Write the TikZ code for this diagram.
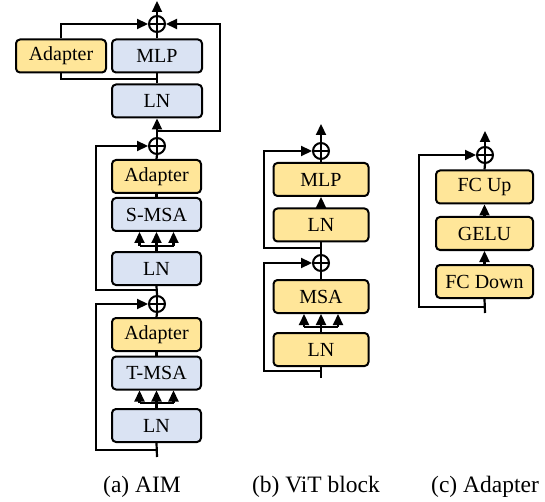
\documentclass[tikz,border=0pt]{standalone}
\usepackage{fontspec}
\setmainfont{Liberation Serif}
\usetikzlibrary{arrows.meta,calc}
\definecolor{ylw}{HTML}{FFE699}
\definecolor{blu}{HTML}{DAE3F3}
\newcommand\myfan[2]{%
  \draw[ln] (#1.north) -- ++(0,-5) coordinate (#1f);
  \draw[ln] ($(#1f)+(-17,0)$) -- ($(#1f)+(17,0)$);
  \foreach \dx in {-17,0,17} {\draw[arr] ($(#1f)+(\dx,0)$) -- ($(#2.south)+(\dx,0)$);}
}
\begin{document}
\begin{tikzpicture}[x=1pt,y=-1pt,
  box/.style={draw, line width=2pt, rounded corners=4pt, minimum height=33pt, inner sep=0pt, font=\fontsize{20}{20}\selectfont},
  ybox/.style={box, fill=ylw},
  bbox/.style={box, fill=blu},
  plus/.style={circle, draw, line width=2pt, minimum size=16pt, inner sep=0pt},
  ln/.style={line width=2.2pt},
  arr/.style={ln, -{Triangle[length=11pt,width=10pt]}},
  captxt/.style={font=\fontsize{23.5}{24}\selectfont}]
\useasboundingbox (0,0) rectangle (545,502);

% ---------- (a) AIM ----------
\node[ybox, minimum width=90pt] (ad1) at (61,56) {Adapter};
\node[bbox, minimum width=90pt] (mlp1) at (157,56) {MLP};
\node[bbox, minimum width=90pt] (ln1) at (157,101) {LN};
\node[plus] (c1) at (157,24) {};
\node[plus] (c2) at (157,146) {};
\node[ybox, minimum width=89pt] (ad2) at (156.5,176.5) {Adapter};
\node[bbox, minimum width=89pt] (smsa) at (156.5,214.5) {S-MSA};
\node[bbox, minimum width=89pt] (ln2) at (156.5,268.5) {LN};
\node[plus] (c3) at (157,304) {};
\node[ybox, minimum width=89pt] (ad3) at (156.5,334.5) {Adapter};
\node[bbox, minimum width=89pt] (tmsa) at (156.5,373) {T-MSA};
\node[bbox, minimum width=89pt] (ln3) at (156.5,425.5) {LN};

\draw[ln] (ln1.north) -- (mlp1.south);
\coordinate (ab) at (157,79);
\draw[ln] (ab) -| (ad1.south);
\draw[arr] (ad1.north) |- (c1.west);
\draw[ln] (mlp1.north) -- (c1.south);
\draw[arr] (c1.north) -- ++(0,-14);
\draw[arr] (c2.north) -- (ln1.south);
\coordinate (b1) at (157,131);
\draw[arr] (b1) -- ++(63,0) |- (c1.east);
\draw[ln] (ad2.north) -- (c2.south);
\draw[ln] (smsa.north) -- (ad2.south);
\myfan{ln2}{smsa}
\draw[ln] (c3.north) -- (ln2.south);
\coordinate (b2) at (157,290);
\draw[arr] (b2) -- ++(-61,0) |- (c2.west);
\draw[ln] (ad3.north) -- (c3.south);
\draw[ln] (tmsa.north) -- (ad3.south);
\myfan{ln3}{tmsa}
\coordinate (in1) at (157,457);
\draw[ln] (in1) -- (ln3.south);
\coordinate (b3) at (157,450);
\draw[arr] (b3) -- ++(-61,0) |- (c3.west);

% ---------- (b) ViT block ----------
\node[plus] (c4) at (321,151) {};
\node[ybox, minimum width=95pt] (mlp2) at (321,179.5) {MLP};
\node[ybox, minimum width=95pt] (ln4) at (321,225) {LN};
\node[plus] (c5) at (321,263) {};
\node[ybox, minimum width=95pt] (msa) at (321,296.5) {MSA};
\node[ybox, minimum width=95pt] (ln5) at (321,349.5) {LN};

\draw[arr] (c4.north) -- ++(0,-18);
\draw[ln] (mlp2.north) -- (c4.south);
\draw[arr] (ln4.north) -- (mlp2.south);
\draw[ln] (c5.north) -- (ln4.south);
\coordinate (b4) at (321,248);
\draw[arr] (b4) -- ++(-57,0) |- (c4.west);
\draw[ln] (msa.north) -- (c5.south);
\myfan{ln5}{msa}
\coordinate (in2) at (321,378);
\draw[ln] (in2) -- (ln5.south);
\coordinate (b5) at (321,371);
\draw[arr] (b5) -- ++(-57,0) |- (c5.west);

% ---------- (c) Adapter ----------
\node[plus] (c6) at (485,155) {};
\node[ybox, minimum width=97pt] (fcup) at (484.5,187) {FC Up};
\node[ybox, minimum width=97pt] (gelu) at (484.5,233.5) {GELU};
\node[ybox, minimum width=97pt] (fcdown) at (484.5,281.5) {FC Down};

\draw[arr] (c6.north) -- ++(0,-15);
\draw[ln] (fcup.north) -- (c6.south);
\draw[arr] (gelu.north) -- (fcup.south);
\draw[arr] (fcdown.north) -- (gelu.south);
\coordinate (in3) at (485,313);
\draw[ln] (in3) -- (fcdown.south);
\coordinate (b6) at (485,307);
\draw[arr] (b6) -- ++(-66,0) |- (c6.west);

\foreach \c in {c1,c2,c3,c4,c5,c6}
  \draw[line width=1.8pt] (\c.north) -- (\c.south) (\c.west) -- (\c.east);

% ---------- captions ----------
\node[captxt] (capa) at (142,487) {(a) AIM};
\node[captxt] (capb) at (316,487) {(b) ViT block};
\node[captxt] (capc) at (485,487) {(c) Adapter};
\end{tikzpicture}
\end{document}
